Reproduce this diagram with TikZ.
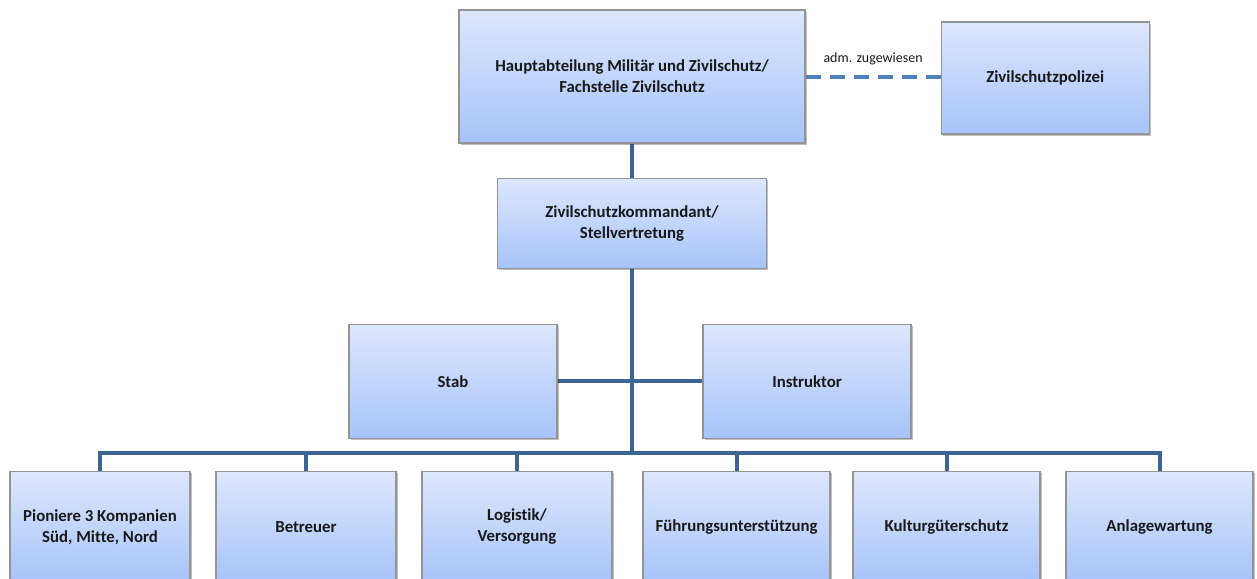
\documentclass[tikz,border=0pt]{standalone}
\usepackage{fontspec}
\setmainfont[RawFeature={-liga}]{Carlito}
\usepackage{tikz}
\usetikzlibrary{positioning}
\usetikzlibrary{shadows}
\usetikzlibrary{backgrounds}
\definecolor{boxtop}{HTML}{DDE7FC}
\definecolor{boxbottom}{HTML}{A7C3FA}
\definecolor{boxline}{HTML}{949494}
\definecolor{linkblue}{HTML}{3D6594}
\definecolor{admblue}{HTML}{4F81BD}
\tikzstyle{orgbox} = [rectangle, draw=boxline, line width=0.6pt,
top color=boxtop, bottom color=boxbottom, align=center, inner sep=2pt,
font=\fontsize{8.4}{10.5}\selectfont\bfseries, text=black!90,
drop shadow={shadow xshift=0.9pt, shadow yshift=-0.9pt, opacity=0.25, fill=black}]
\tikzstyle{unitbox} = [orgbox, minimum width=92pt, minimum height=55.5pt]
\tikzstyle{link} = [draw=linkblue, line width=2pt]
\tikzstyle{admlink} = [draw=admblue, line width=2pt, dash pattern=on 7.5pt off 4.5pt]

\begin{document}
\begin{tikzpicture}[x=0.5pt, y=-0.5pt]
  \useasboundingbox (0,0) rectangle (1257,578);
  \clip (0,0) rectangle (1257,578);
  % top
  \node[orgbox, minimum width=173pt, minimum height=66.5pt] (haupt) at (632,76.5)
    {Hauptabteilung Militär und Zivilschutz/\\Fachstelle Zivilschutz};
  \node[orgbox, minimum width=104pt, minimum height=56pt, right = 67.5pt of haupt, yshift = -0.75pt]
    (polizei) {Zivilschutzpolizei};
  % command
  \node[orgbox, minimum width=134.5pt, minimum height=45pt, below = 17pt of haupt]
    (kommandant) {Zivilschutzkommandant/\\Stellvertretung};
  % staff
  \node[orgbox, minimum width=104pt, minimum height=57pt, below = 27.5pt of kommandant, xshift = -89.5pt]
    (stab) {Stab};
  \node[orgbox, minimum width=104pt, minimum height=57pt, below = 27.5pt of kommandant, xshift = 87.5pt]
    (instruktor) {Instruktor};
  % units
  \node[unitbox, minimum width=90pt, below = 101pt of kommandant, xshift = -266pt]
    (pion) {Pioniere 3 Kompanien\\Süd, Mitte, Nord};
  \node[unitbox, minimum width=90pt, below = 101pt of kommandant, xshift = -163pt]
    (betr) {Betreuer};
  \node[unitbox, minimum width=95pt, below = 101pt of kommandant, xshift = -57.5pt]
    (logi) {Logistik/\\Versorgung};
  \node[unitbox, minimum width=93.5pt, below = 101pt of kommandant, xshift = 52.25pt]
    (fuehr) {Führungsunterstützung};
  \node[unitbox, minimum width=93.5pt, below = 101pt of kommandant, xshift = 157.25pt]
    (kult) {Kulturgüterschutz};
  \node[unitbox, minimum width=93.5pt, below = 101pt of kommandant, xshift = 263.75pt]
    (anl) {Anlagewartung};
  \coordinate (bus) at (632,453);

  % edges
  \begin{scope}[on background layer]
    \draw[link] (haupt.south) -- (kommandant.north);
    \draw[link] (kommandant.south) -- (bus);
    \draw[link] (stab.east) -- (instruktor.west);
    \foreach \u in {pion, betr, logi, fuehr, kult, anl}
      \draw[link] (\u.north) |- (bus);
  \end{scope}
  % adm. link
  \draw[admlink] (haupt.east) -- (haupt.east -| polizei.west)
    node[midway, above = 1.5pt, text=black!90, font=\fontsize{7}{8}\selectfont] (adm) {adm. zugewiesen};
\end{tikzpicture}
\end{document}
